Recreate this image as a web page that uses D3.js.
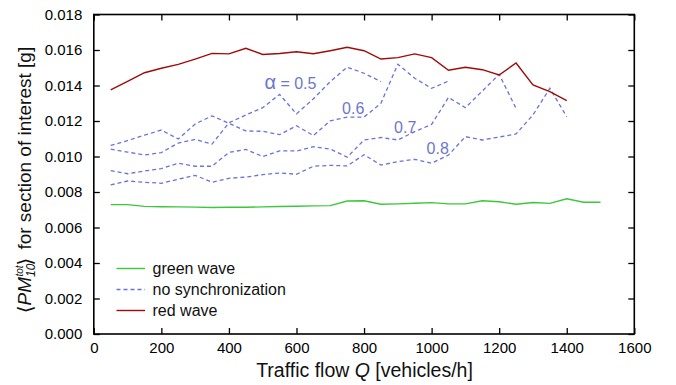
<!DOCTYPE html>
<html>
<head>
<meta charset="utf-8">
<script src="https://cdn.jsdelivr.net/npm/d3@7"></script>
<style>
  html, body { margin: 0; padding: 0; background: #fff; }
  svg { display: block; font-family: "Liberation Sans", Arial, Helvetica, sans-serif; }
</style>
</head>
<body>
<svg id="chart" width="676" height="385"></svg>
<script>
// ---- data ----
const qGreen = d3.range(50, 1501, 50);      // 50..1500
const greenWave = [0.00729, 0.00729, 0.00719, 0.00717, 0.00716, 0.00715, 0.00713, 0.00714, 0.00714, 0.00716,
                   0.00718, 0.00720, 0.00722, 0.00723, 0.00749, 0.00751, 0.00731, 0.00733, 0.00737, 0.00740,
                   0.00733, 0.00733, 0.00751, 0.00745, 0.00731, 0.00741, 0.00736, 0.00762, 0.00742, 0.00742];

const qRed = d3.range(50, 1401, 50);        // 50..1400
const redWave = [0.01375, 0.01423, 0.01472, 0.01497, 0.01519, 0.01549, 0.01581, 0.01578, 0.01610, 0.01575,
                 0.01580, 0.01590, 0.01579, 0.01596, 0.01615, 0.01596, 0.01549, 0.01557, 0.01578, 0.01557,
                 0.01486, 0.01503, 0.01489, 0.01459, 0.01527, 0.01403, 0.01365, 0.01315];

const qAlpha05 = d3.range(50, 851, 50);     // 50..850
const noSyncAlpha05 = [0.01041, 0.01025, 0.01008, 0.01022, 0.01076, 0.01096, 0.01070, 0.01190, 0.01234, 0.01275,
                       0.01350, 0.01240, 0.01325, 0.01422, 0.01503, 0.01469, 0.01422];

const qAlpha06 = d3.range(50, 1051, 50);    // 50..1050
const noSyncAlpha06 = [0.01062, 0.01090, 0.01120, 0.01149, 0.01099, 0.01183, 0.01229, 0.01187, 0.01144, 0.01142,
                       0.01123, 0.01173, 0.01118, 0.01201, 0.01222, 0.01222, 0.01300, 0.01520, 0.01441, 0.01384,
                       0.01425];

const qAlpha07 = d3.range(50, 1251, 50);    // 50..1250
const noSyncAlpha07 = [0.00920, 0.00903, 0.00918, 0.00932, 0.00962, 0.00945, 0.00945, 0.01023, 0.01040, 0.01000,
                       0.01032, 0.01031, 0.01055, 0.01042, 0.00996, 0.01093, 0.01107, 0.01093, 0.01140, 0.01181,
                       0.01333, 0.01275, 0.01369, 0.01463, 0.01271];

const qAlpha08 = d3.range(50, 1401, 50);    // 50..1400
const noSyncAlpha08 = [0.00840, 0.00862, 0.00855, 0.00849, 0.00872, 0.00894, 0.00855, 0.00877, 0.00884, 0.00898,
                       0.00907, 0.00900, 0.00945, 0.00950, 0.00947, 0.01010, 0.00952, 0.00971, 0.00984, 0.00962,
                       0.01008, 0.01112, 0.01093, 0.01110, 0.01127, 0.01234, 0.01384, 0.01224];

// curve labels: prefix, value text, Q, value (anchor positions in data units)
const alphaPrefix = ["\u03B1", "", "", ""];
const alphaLabels = [" = 0.5", "0.6", "0.7", "0.8"];
const alphaLabelQ = [505, 735, 889, 985];
const alphaLabelV = [0.01380, 0.01240, 0.01132, 0.01014];

const xTicks = [0, 200, 400, 600, 800, 1000, 1200, 1400, 1600];
const yTicks = [0, 0.002, 0.004, 0.006, 0.008, 0.010, 0.012, 0.014, 0.016, 0.018];

const legendLabels = ["green wave", "no synchronization", "red wave"];

// ---- styles ----
const colGreen = "#3cc83c";
const colBlue = "#6b72d8";
const colRed = "#a00a0a";
const colLabel = "#6d76cf";

// ---- layout ----
const svg = d3.select("#chart");
const L = 93.8, R = 634.3, T = 14.5, B = 334;
const x = d3.scaleLinear().domain([0, 1600]).range([L, R]);
const y = d3.scaleLinear().domain([0, 0.018]).range([B, T]);

// axes with inward ticks
const axB = svg.append("g").attr("transform", `translate(0,${B})`)
  .call(d3.axisBottom(x).tickValues(xTicks).tickFormat(d3.format("d")).tickSizeInner(-6).tickSizeOuter(0).tickPadding(8));
const axL = svg.append("g").attr("transform", `translate(${L},0)`)
  .call(d3.axisLeft(y).tickValues(yTicks).tickFormat(d3.format(".3f")).tickSizeInner(-6).tickSizeOuter(0).tickPadding(11.5));
const axT = svg.append("g").attr("transform", `translate(0,${T})`)
  .call(d3.axisTop(x).tickValues(xTicks).tickFormat("").tickSizeInner(-6).tickSizeOuter(0));
const axR = svg.append("g").attr("transform", `translate(${R},0)`)
  .call(d3.axisRight(y).tickValues(yTicks).tickFormat("").tickSizeInner(-6).tickSizeOuter(0));

[axB, axL, axT, axR].forEach(g => {
  g.select(".domain").remove();
  g.selectAll(".tick line").attr("stroke", "#000").attr("stroke-width", 1.3);
  g.selectAll(".tick text").attr("fill", "#000").style("font-size", "15px")
    .style("font-family", "'Liberation Sans', Arial, Helvetica, sans-serif");
});

// frame
svg.append("rect").attr("x", L).attr("y", T).attr("width", R - L).attr("height", B - T)
  .attr("fill", "none").attr("stroke", "#000").attr("stroke-width", 1.6);

// lines
const line = d3.line().x(d => x(d[0])).y(d => y(d[1]));
const zip = (qs, vs) => qs.map((q, i) => [q, vs[i]]);

const plotG = svg.append("g");
plotG.append("path").datum(zip(qGreen, greenWave))
  .attr("d", line).attr("fill", "none").attr("stroke", colGreen).attr("stroke-width", 1.4);

[[qAlpha05, noSyncAlpha05], [qAlpha06, noSyncAlpha06], [qAlpha07, noSyncAlpha07], [qAlpha08, noSyncAlpha08]]
  .forEach(([qs, vs]) => {
    plotG.append("path").datum(zip(qs, vs))
      .attr("d", line).attr("fill", "none").attr("stroke", colBlue).attr("stroke-width", 1.3)
      .attr("stroke-dasharray", "4,3");
  });

plotG.append("path").datum(zip(qRed, redWave))
  .attr("d", line).attr("fill", "none").attr("stroke", colRed).attr("stroke-width", 1.4);

// curve labels
alphaLabels.forEach((t, i) => {
  const tx = svg.append("text").attr("x", x(alphaLabelQ[i])).attr("y", y(alphaLabelV[i]))
    .attr("fill", colLabel).style("font-size", "16px");
  if (alphaPrefix[i]) tx.append("tspan").style("font-size", "20px").text(alphaPrefix[i]);
  tx.append("tspan").text(t);
});

// legend
const legY = [268.5, 289.5, 310.5];
const legCols = [colGreen, colBlue, colRed];
const legDash = [null, "4,3", null];
legendLabels.forEach((t, i) => {
  svg.append("line").attr("x1", 116.5).attr("x2", 145).attr("y1", legY[i]).attr("y2", legY[i])
    .attr("stroke", legCols[i]).attr("stroke-width", 1.4).attr("stroke-dasharray", legDash[i]);
  svg.append("text").attr("x", 152.5).attr("y", legY[i]).attr("dy", "0.35em")
    .attr("fill", "#111").style("font-size", "16px").text(t);
});

// x title
const xt = svg.append("text").attr("x", (255 + 474) / 2).attr("y", 377)
  .attr("text-anchor", "middle").attr("fill", "#111").style("font-size", "19.5px");
xt.append("tspan").text("Traffic flow ");
xt.append("tspan").style("font-style", "italic").text("Q");
xt.append("tspan").text(" [vehicles/h]");

// y title
const yt = svg.append("text").attr("transform", "translate(31,180) rotate(-90)")
  .attr("text-anchor", "middle").attr("fill", "#111").style("font-size", "19px");
yt.append("tspan").style("font-family", "'DejaVu Sans', sans-serif").style("font-size", "20px").attr("dy", 1).text("\u27E8");
yt.append("tspan").style("font-style", "italic").attr("dy", -1).text("PM");
yt.append("tspan").style("font-style", "italic").style("font-size", "12px").attr("dy", 4).text("10");
yt.append("tspan").style("font-style", "italic").style("font-size", "10px").attr("dx", -13).attr("dy", -12).text("tot");
yt.append("tspan").style("font-family", "'DejaVu Sans', sans-serif").style("font-size", "20px").attr("dy", 9).text("\u27E9");
yt.append("tspan").attr("dx", 8).attr("dy", -1).text("for section of interest [g]");
</script>
</body>
</html>
